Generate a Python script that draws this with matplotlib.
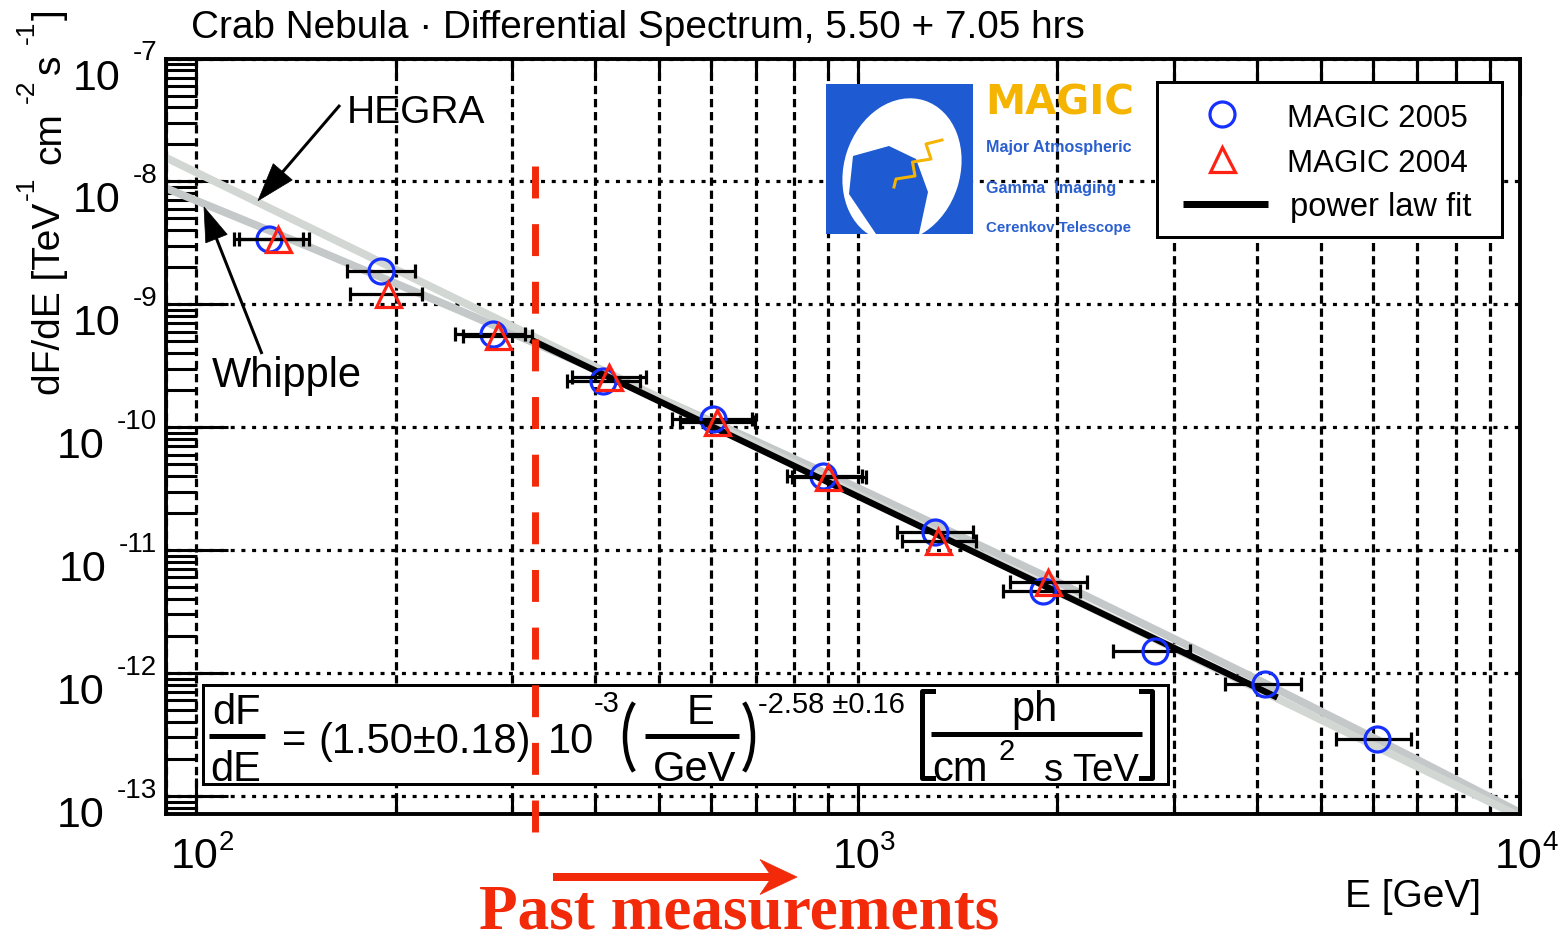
import numpy as np
import matplotlib
matplotlib.use("Agg")
import matplotlib.pyplot as plt
from matplotlib.transforms import IdentityTransform, blended_transform_factory
from matplotlib.patches import Rectangle, Polygon, Ellipse, Arc
from matplotlib.lines import Line2D
from matplotlib.ticker import LogLocator, NullFormatter

# ---------------- data ----------------
e2005 = [129, 190, 281, 412, 604, 885, 1308, 1904, 2812, 4125, 6072]
e2005_lo = [114, 169, 246, 363, 523, 781, 1146, 1657, 2430, 3589, 5264]
e2005_hi = [148, 214, 314, 468, 691, 1014, 1493, 2167, 3177, 4660, 6834]
f2005 = [3.40e-9, 1.88e-9, 5.73e-10, 2.38e-10, 1.17e-10, 4.01e-11,
         1.40e-11, 4.65e-12, 1.51e-12, 8.13e-13, 2.90e-13]

e2004 = [133, 195, 286, 420, 612, 901, 1321, 1938]
e2004_lo = [116, 171, 253, 369, 538, 794, 1166, 1698]
e2004_hi = [145, 219, 321, 478, 698, 1028, 1508, 2220]
f2004 = [3.40e-9, 1.21e-9, 5.52e-10, 2.56e-10, 1.10e-10, 3.93e-11,
         1.19e-11, 5.50e-12]

hegra_e = [90, 10000]
hegra_f = [1.56e-8, 6.79e-14]
whipple_e = [90, 150, 250, 400, 700, 1000, 2000, 4000, 7000, 10000]
whipple_f = [8.81e-9, 2.85e-9, 8.91e-10, 2.97e-10, 7.71e-11, 3.20e-11,
             5.52e-12, 8.94e-13, 1.97e-13, 7.33e-14]
fit_e = [320, 4300]
fit_f = [5.16e-10, 6.33e-13]
threshold_e = 325

xtick_vals = [1e2, 1e3, 1e4]
xtick_exp = ['2', '3', '4']
ytick_vals = [1e-7, 1e-8, 1e-9, 1e-10, 1e-11, 1e-12, 1e-13]
ytick_exp = ['-7', '-8', '-9', '-10', '-11', '-12', '-13']

title = "Crab Nebula \u00b7 Differential Spectrum, 5.50 + 7.05 hrs"
legend_labels = ["MAGIC 2005", "MAGIC 2004", "power law fit"]
xlabel = "E [GeV]"

# ---------------- style ----------------
W, H, DPI = 1567, 945, 100
PT = 72.0 / DPI
FONT = ['Liberation Sans', 'DejaVu Sans']
SERIF = ['Liberation Serif', 'DejaVu Serif']
plt.rcParams['font.family'] = FONT
RED = '#f22a0a'
BLUE_M = '#1530ff'
RED_M = '#ff2214'
LOGO_BLUE = '#1e5ad2'
LOGO_YEL = '#f5b400'
ID = IdentityTransform()

fig = plt.figure(figsize=(W / DPI, H / DPI), dpi=DPI)
L, R, TOP, BOT = 166, 1520, 59.5, 815
ax = fig.add_axes([L / W, 1 - BOT / H, (R - L) / W, (BOT - TOP) / H])
ax.set_xscale('log')
ax.set_yscale('log')
ax.set_xlim(90, 1e4)
ax.set_ylim(7.14e-14, 1e-7)

ax.xaxis.set_major_locator(LogLocator(base=10, numticks=20))
ax.xaxis.set_minor_locator(LogLocator(base=10, subs=np.arange(2, 10), numticks=100))
ax.yaxis.set_major_locator(LogLocator(base=10, numticks=20))
ax.yaxis.set_minor_locator(LogLocator(base=10, subs=np.arange(2, 10), numticks=100))
ax.xaxis.set_minor_formatter(NullFormatter())
ax.yaxis.set_minor_formatter(NullFormatter())

ax.set_axisbelow(True)
ax.xaxis.grid(True, which='both', color='k', lw=2.3, linestyle=(0, (2.6, 1.5)))
ax.yaxis.grid(True, which='major', color='k', lw=2.3, linestyle=(0, (1.25, 2.1)))

ax.tick_params(axis='x', which='major', direction='in', length=36 * PT, width=2.2,
               top=True, bottom=True, labelbottom=False, labeltop=False)
ax.tick_params(axis='x', which='minor', direction='in', length=18 * PT, width=2.2,
               top=True, bottom=True)
ax.tick_params(axis='y', which='major', direction='in', length=62 * PT, width=2.2,
               left=True, right=False, labelleft=False)
ax.tick_params(axis='y', which='minor', direction='in', length=31 * PT, width=2.2,
               left=True, right=False)
for s in ax.spines.values():
    s.set_linewidth(2.8)

# ---------------- curves and points ----------------
ax.plot(whipple_e, whipple_f, color='#c4c8c8', lw=5.6, zorder=2, solid_capstyle='butt')
ax.plot(hegra_e, hegra_f, color='#d3d7d3', lw=5.6, zorder=2.1, solid_capstyle='butt')
ax.plot(fit_e, fit_f, color='k', lw=4.6, zorder=3, solid_capstyle='butt')

e5 = np.array(e2005, float)
ax.errorbar(e2005, f2005, xerr=[e5 - np.array(e2005_lo), np.array(e2005_hi) - e5],
            fmt='o', ms=18, mfc='none', mec=BLUE_M, mew=2.3, ecolor='k',
            elinewidth=2.3, capsize=4.7, capthick=2.3, zorder=4)
e4 = np.array(e2004, float)
ax.errorbar(e2004, f2004, xerr=[e4 - np.array(e2004_lo), np.array(e2004_hi) - e4],
            fmt='^', ms=18, mfc='none', mec=RED_M, mew=2.3, ecolor='k',
            elinewidth=2.3, capsize=4.7, capthick=2.3, zorder=4.5)

# red threshold line
btr = blended_transform_factory(ax.transData, ax.transAxes)
ax.plot([threshold_e, threshold_e], [(BOT - 167) / (BOT - TOP), (BOT - 837) / (BOT - TOP)],
        transform=btr, color=RED, lw=5, linestyle=(0, (4.6, 3.7)),
        dash_capstyle='butt', clip_on=False, zorder=30)


# ---------------- helpers (image pixel coords, top-left origin) ----------------
def T(x, y, s, size, ha='left', va='baseline', color='k', family=None,
      weight='normal', rot=0, z=10):
    return ax.text(x, H - y, s, transform=ID, fontsize=size, ha=ha, va=va,
                   color=color, family=family if family else FONT,
                   fontweight=weight, rotation=rot, rotation_mode='anchor',
                   zorder=z, clip_on=False)


def LN(xs, ys, lw, color='k', z=10, **kw):
    ln = Line2D(xs, [H - v for v in ys], transform=ID, lw=lw * PT, color=color,
                zorder=z, clip_on=False, **kw)
    ax.add_line(ln)
    return ln


def ARROW(tail, tip, head_len, head_w, lw, color, notch=0.0, z=10):
    t = np.array([tail[0], H - tail[1]], float)
    p = np.array([tip[0], H - tip[1]], float)
    u = (p - t) / np.linalg.norm(p - t)
    n = np.array([-u[1], u[0]])
    base = p - u * head_len
    pts = [p, base + n * head_w / 2, base + u * notch, base - n * head_w / 2]
    ax.add_patch(Polygon(pts, closed=True, transform=ID, fc=color, ec=color,
                         lw=0.5, zorder=z, clip_on=False))
    end = base + u * (notch + 1)
    ax.add_line(Line2D([t[0], end[0]], [t[1], end[1]], transform=ID, lw=lw * PT,
                       color=color, zorder=z, clip_on=False, solid_capstyle='butt'))


renderer = fig.canvas.get_renderer()

# ---------------- title / labels ----------------
T(191, 38, title, 27.9)
T(1481, 907, xlabel, 28, ha='right')

# y label composed of runs (rotated 90 degrees)
runs = [("dF/dE [TeV", 28, 0, 0), ("-1", 19, 26, 3), ("cm", 28, 0, 12),
        ("-2", 19, 26, 9), ("s", 28, 0, 6), ("-1", 19, 26, 11), ("]", 28, 0, 0)]
ypos = H - 395
for s, size, raise_px, gap in runs:
    ypos += gap
    t = ax.text(60 - raise_px, ypos, s, transform=ID, fontsize=size, rotation=90,
                rotation_mode='anchor', ha='left', va='baseline', clip_on=False)
    ypos += t.get_window_extent(renderer).height

# tick labels
for val, ex in zip(ytick_vals, ytick_exp):
    yd = ax.transData.transform((100, val))[1]
    te = ax.text(L - 9, yd - 1, ex, transform=ID, fontsize=20, ha='right',
                 va='baseline', clip_on=False)
    w = te.get_window_extent(renderer).width
    ax.text(L - 9 - w - 12, yd - 30, '10', transform=ID, fontsize=31, ha='right',
            va='baseline', clip_on=False)
for val, ex in zip(xtick_vals, xtick_exp):
    xd = ax.transData.transform((val, 1e-10))[0]
    ax.text(xd - 1.5, H - BOT - 53, '10', transform=ID, fontsize=31, ha='center',
            va='baseline', clip_on=False)
    ax.text(xd + 22, H - BOT - 35, ex, transform=ID, fontsize=20, ha='left',
            va='baseline', clip_on=False)

# ---------------- HEGRA / Whipple annotations ----------------
T(347, 123, "HEGRA", 28)
T(212, 387, "Whipple", 30)
ARROW((340, 106), (258, 201.7), 38, 25, 3, 'k')
ARROW((262, 355), (204, 208), 34, 23, 3, 'k')

# ---------------- legend ----------------
ax.add_patch(Rectangle((1157, H - 238), 345, 155, transform=ID, fc='white', ec='k',
                       lw=3 * PT, zorder=8, clip_on=False))
ax.plot([1222], [H - 115], transform=ID, marker='o', ms=18, mfc='none', mec=BLUE_M,
        mew=2.3, zorder=9, clip_on=False)
ax.plot([1222], [H - 160], transform=ID, marker='^', ms=18, mfc='none', mec=RED_M,
        mew=2.3, zorder=9, clip_on=False)
LN([1183, 1268], [205, 205], 7, 'k', z=9, solid_capstyle='butt')
T(1287, 127, legend_labels[0], 22.5, z=9)
T(1287, 172, legend_labels[1], 22.5, z=9)
T(1290, 216, legend_labels[2], 23.5, z=9)

# ---------------- MAGIC logo ----------------
logo = Rectangle((826, H - 235), 147, 150, transform=ID, fc=LOGO_BLUE, ec='none',
                 zorder=8)
ax.add_patch(logo)
ell = Ellipse((902, H - 171), 116, 146, angle=-18, transform=ID, fc='white',
              ec='none', zorder=8.1)
ax.add_patch(ell)
ell.set_clip_path(logo)
mirror = [(853, 157), (889, 147), (916, 160), (928, 193), (919, 235),
          (876, 235), (849, 195)]
mp = Polygon([(x, H - y) for x, y in mirror], closed=True, transform=ID,
             fc=LOGO_BLUE, ec='none', zorder=8.2)
ax.add_patch(mp)
mp.set_clip_path(logo)
zig = [(942, 141), (926, 145), (931, 160), (912.5, 163), (915, 177), (896, 180),
       (894, 188)]
LN([p[0] for p in zig], [p[1] for p in zig], 3, LOGO_YEL, z=8.3)
T(985, 115, "MAGIC", 29, color=LOGO_YEL, family=['DejaVu Sans'], weight='bold', z=9)
T(986, 152, "Major Atmospheric", 11.6, color='#2a5fcf', weight='bold', z=9)
T(986, 193, "Gamma  Imaging", 11.6, color='#2a5fcf', weight='bold', z=9)
T(986, 232, "Cerenkov Telescope", 10.8, color='#2a5fcf', weight='bold', z=9)

# ---------------- formula box ----------------
ax.add_patch(Rectangle((203, H - 785), 965, 99, transform=ID, fc='white', ec='k',
                       lw=3 * PT, zorder=6, clip_on=False))
FZ = 7
T(237, 724, "dF", 30, ha='center', z=FZ)
LN([209, 265], [737, 737], 5, z=FZ, solid_capstyle='butt')
T(236, 781, "dE", 30, ha='center', z=FZ)
T(282, 752, "=", 30, z=FZ)
T(318, 753, "(1.50\u00b10.18)", 30, z=FZ)
T(548, 753, "10", 30, z=FZ)
T(594, 712, "-3", 21, z=FZ)
ax.add_patch(Arc((650, H - 738), 50, 90, theta1=115, theta2=245, transform=ID,
                 lw=3.2, color='k', zorder=FZ))
T(700, 724, "E", 30, ha='center', z=FZ)
LN([645, 739], [737, 737], 5, z=FZ, solid_capstyle='butt')
T(695, 781, "GeV", 30, ha='center', z=FZ)
ax.add_patch(Arc((728, H - 738), 50, 90, theta1=-65, theta2=65, transform=ID,
                 lw=3.2, color='k', zorder=FZ))
T(758, 713, "-2.58 \u00b10.16", 21, z=FZ)
LN([933, 922, 922, 933], [692, 692, 779, 779], 5, z=FZ)
T(1035, 721, "ph", 30, ha='center', z=FZ)
LN([931, 1142], [735, 735], 5, z=FZ, solid_capstyle='butt')
T(932, 781, "cm", 30, z=FZ)
T(999, 760, "2", 21, z=FZ)
T(1044, 781, "s TeV", 27.5, z=FZ)
LN([1141, 1152, 1152, 1141], [692, 692, 779, 779], 5, z=FZ)

# ---------------- past measurements ----------------
ARROW((553, 878), (797, 878), 37, 35, 8, RED, notch=12)
T(739.5, 943, "Past measurements", 45.5, ha='center', va='bottom', color=RED,
  family=SERIF, weight='bold')

fig.savefig("out.png", dpi=DPI)
